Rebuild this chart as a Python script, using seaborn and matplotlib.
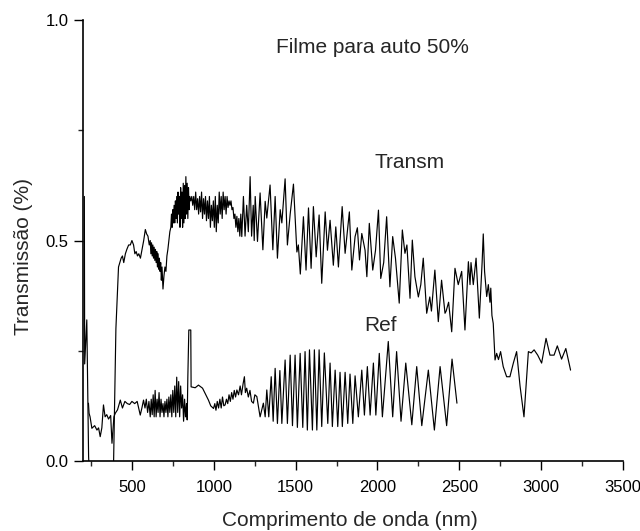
import matplotlib
matplotlib.use('Agg')
import matplotlib.pyplot as plt
import seaborn as sns
import pandas as pd
from matplotlib.ticker import MultipleLocator, FormatStrFormatter

# (comprimento de onda nm, transmissao)
transm_uv = [(207, 0.60), (209, 0.22), (222, 0.32), (226, 0.20), (233, 0.01), (240, -0.05),
             (380, -0.05), (386, 0.0), (400, 0.30), (416, 0.44), (424, 0.45), (432, 0.46),
             (440, 0.465), (448, 0.45), (458, 0.47), (467, 0.48), (478, 0.49), (488, 0.49),
             (498, 0.50), (508, 0.49), (516, 0.47), (524, 0.475), (532, 0.465), (540, 0.47),
             (550, 0.46), (560, 0.48), (570, 0.50), (580, 0.525), (588, 0.515), (596, 0.51),
             (604, 0.49)]
transm_vis = [(610, 0.50), (614, 0.47), (618, 0.495), (622, 0.465), (626, 0.49), (630, 0.46),
              (634, 0.485), (638, 0.455), (642, 0.48), (646, 0.45), (650, 0.475), (654, 0.44),
              (658, 0.47), (662, 0.435), (666, 0.46), (670, 0.43), (674, 0.45), (678, 0.41),
              (682, 0.44), (688, 0.39), (694, 0.42), (700, 0.44), (706, 0.43), (712, 0.465),
              (718, 0.48), (724, 0.50), (730, 0.52), (736, 0.53), (740, 0.56), (744, 0.53),
              (748, 0.57), (752, 0.54), (756, 0.58), (760, 0.54), (764, 0.59), (768, 0.55),
              (772, 0.60), (776, 0.54), (780, 0.61), (784, 0.56), (788, 0.60), (792, 0.53),
              (796, 0.62), (800, 0.55), (804, 0.61), (808, 0.53), (812, 0.63), (816, 0.54),
              (820, 0.625), (824, 0.55), (828, 0.645), (832, 0.56), (836, 0.63), (840, 0.55),
              (844, 0.62), (848, 0.57), (852, 0.60), (858, 0.59), (864, 0.60), (870, 0.58),
              (876, 0.60), (882, 0.57), (888, 0.61), (894, 0.57), (900, 0.595), (906, 0.56),
              (912, 0.60), (918, 0.565), (924, 0.61), (930, 0.55), (936, 0.595), (942, 0.56),
              (948, 0.60), (954, 0.545), (960, 0.59), (966, 0.55), (972, 0.60), (978, 0.53),
              (984, 0.58), (990, 0.545), (996, 0.59), (1002, 0.53), (1008, 0.60), (1014, 0.52),
              (1020, 0.58), (1026, 0.54), (1032, 0.61), (1038, 0.56), (1044, 0.60), (1050, 0.55),
              (1056, 0.61), (1062, 0.57), (1068, 0.60), (1074, 0.56), (1080, 0.60), (1086, 0.575),
              (1092, 0.59), (1098, 0.58), (1104, 0.59), (1110, 0.57), (1116, 0.575), (1122, 0.55),
              (1128, 0.56), (1134, 0.53), (1140, 0.555), (1146, 0.52), (1152, 0.55), (1158, 0.51),
              (1164, 0.56)]
transm_nir = [(1170, 0.509), (1180, 0.60), (1190, 0.51), (1200, 0.58), (1210, 0.52), (1221, 0.645),
              (1230, 0.51), (1240, 0.58), (1246, 0.50), (1252, 0.60), (1266, 0.498), (1282, 0.608),
              (1299, 0.479), (1313, 0.589), (1323, 0.551), (1343, 0.626), (1360, 0.479), (1374, 0.60),
              (1388, 0.46), (1405, 0.57), (1415, 0.54), (1435, 0.64), (1449, 0.49), (1466, 0.56),
              (1486, 0.628), (1507, 0.474), (1516, 0.49), (1528, 0.424), (1547, 0.554), (1563, 0.433),
              (1578, 0.574), (1594, 0.437), (1608, 0.577), (1625, 0.463), (1643, 0.558), (1659, 0.403),
              (1680, 0.565), (1694, 0.478), (1710, 0.546), (1730, 0.444), (1745, 0.531), (1761, 0.440),
              (1784, 0.577), (1802, 0.471), (1828, 0.565), (1843, 0.433), (1863, 0.509), (1877, 0.529),
              (1890, 0.456), (1904, 0.516), (1924, 0.478), (1935, 0.418), (1950, 0.539), (1971, 0.433),
              (1988, 0.478), (2006, 0.569), (2020, 0.414), (2038, 0.45), (2056, 0.554), (2076, 0.395),
              (2093, 0.509), (2110, 0.46), (2133, 0.358), (2152, 0.524), (2168, 0.471), (2180, 0.49),
              (2199, 0.369), (2213, 0.501), (2229, 0.418), (2250, 0.372), (2265, 0.40), (2280, 0.460),
              (2301, 0.335), (2320, 0.372), (2330, 0.34), (2351, 0.433), (2372, 0.316), (2392, 0.410),
              (2413, 0.335), (2420, 0.34), (2435, 0.36), (2454, 0.293), (2474, 0.437), (2494, 0.40),
              (2515, 0.43), (2535, 0.297), (2556, 0.452), (2566, 0.40), (2572, 0.45), (2586, 0.40),
              (2603, 0.46), (2623, 0.324), (2640, 0.45), (2647, 0.515), (2655, 0.43), (2668, 0.373),
              (2678, 0.40), (2688, 0.36), (2693, 0.392), (2700, 0.33), (2708, 0.312), (2719, 0.229),
              (2729, 0.244), (2740, 0.23), (2753, 0.248), (2769, 0.214), (2790, 0.191), (2810, 0.191),
              (2831, 0.222), (2851, 0.248), (2872, 0.17), (2896, 0.100), (2923, 0.248), (2940, 0.245),
              (2958, 0.252), (2980, 0.24), (3004, 0.222), (3031, 0.278), (3055, 0.240), (3080, 0.24),
              (3100, 0.261), (3126, 0.231), (3152, 0.255), (3181, 0.206)]

ref_uv = [(232, 0.131), (236, 0.108), (242, 0.10), (253, 0.074), (270, 0.08), (284, 0.07),
          (294, 0.075), (304, 0.055), (314, 0.075), (324, 0.127), (334, 0.10), (344, 0.105),
          (355, 0.095), (368, 0.103), (376, 0.04), (388, 0.10), (396, 0.108), (410, 0.116),
          (427, 0.138), (440, 0.12), (455, 0.135), (470, 0.13), (484, 0.128), (498, 0.135),
          (515, 0.13), (530, 0.135), (549, 0.104), (559, 0.12), (569, 0.138)]
ref_vis = [(578, 0.12), (586, 0.14), (594, 0.11), (602, 0.135), (610, 0.10), (616, 0.14),
           (622, 0.105), (628, 0.15), (634, 0.10), (640, 0.16), (646, 0.10), (652, 0.14),
           (658, 0.11), (664, 0.155), (670, 0.10), (676, 0.14), (682, 0.11), (688, 0.13),
           (694, 0.10), (700, 0.135), (706, 0.11), (712, 0.14), (718, 0.10), (724, 0.145),
           (730, 0.11), (736, 0.15), (742, 0.10), (748, 0.16), (754, 0.11), (760, 0.17),
           (766, 0.10), (772, 0.19), (778, 0.11), (784, 0.18), (790, 0.10), (796, 0.17),
           (802, 0.12), (808, 0.15), (814, 0.09), (820, 0.14), (826, 0.10), (832, 0.13),
           (836, 0.093), (840, 0.19), (846, 0.297), (858, 0.297), (860, 0.168), (885, 0.166),
           (905, 0.172), (930, 0.165), (950, 0.15), (966, 0.138), (980, 0.125), (997, 0.119),
           (1005, 0.13), (1012, 0.115), (1020, 0.135), (1028, 0.12), (1036, 0.14), (1044, 0.12),
           (1052, 0.145), (1060, 0.125), (1068, 0.127), (1076, 0.14), (1084, 0.13), (1092, 0.15),
           (1100, 0.135), (1108, 0.155), (1116, 0.14), (1124, 0.16), (1132, 0.145), (1140, 0.161),
           (1150, 0.15), (1160, 0.17), (1168, 0.15), (1178, 0.175), (1186, 0.191), (1192, 0.155),
           (1200, 0.165), (1210, 0.145), (1220, 0.16), (1230, 0.135), (1241, 0.131), (1250, 0.15),
           (1262, 0.146), (1282, 0.10), (1302, 0.131), (1313, 0.10)]
ref_nir = [(1323, 0.161), (1335, 0.10), (1350, 0.191), (1362, 0.09), (1374, 0.210), (1388, 0.085),
           (1403, 0.205), (1415, 0.085), (1435, 0.229), (1449, 0.085), (1466, 0.240), (1480, 0.08),
           (1496, 0.24), (1510, 0.076), (1527, 0.244), (1543, 0.076), (1557, 0.248), (1571, 0.07),
           (1584, 0.252), (1602, 0.07), (1614, 0.252), (1629, 0.07), (1643, 0.252), (1659, 0.078),
           (1675, 0.245), (1696, 0.085), (1710, 0.222), (1724, 0.078), (1741, 0.206), (1757, 0.078),
           (1771, 0.201), (1785, 0.078), (1802, 0.201), (1818, 0.085), (1832, 0.197), (1849, 0.085),
           (1863, 0.193), (1883, 0.10), (1904, 0.206), (1920, 0.104), (1938, 0.214), (1955, 0.104),
           (1975, 0.222), (1990, 0.104), (2011, 0.244), (2030, 0.100), (2066, 0.271), (2093, 0.10),
           (2117, 0.248), (2144, 0.090), (2173, 0.222), (2210, 0.082), (2240, 0.214), (2271, 0.080),
           (2311, 0.206), (2348, 0.070), (2383, 0.214), (2423, 0.080), (2456, 0.231), (2486, 0.131)]

transm = transm_uv + transm_vis + transm_nir
ref = ref_uv + ref_vis + ref_nir
df_t = pd.DataFrame(transm, columns=['nm', 'val'])
df_r = pd.DataFrame(ref, columns=['nm', 'val'])

sns.set_style('ticks')
plt.rcParams['font.family'] = ['Liberation Sans', 'DejaVu Sans']

fig = plt.figure(figsize=(6.4, 5.31), dpi=100)
ax = fig.add_axes([0.130, 0.132, 0.843, 0.830])

sns.lineplot(data=df_t, x='nm', y='val', sort=False, estimator=None,
             color='black', lw=0.85, ax=ax)
sns.lineplot(data=df_r, x='nm', y='val', sort=False, estimator=None,
             color='black', lw=0.85, ax=ax)

ax.set_xlim(200, 3500)
ax.set_ylim(0, 1.0)
ax.xaxis.set_major_locator(MultipleLocator(500))
ax.xaxis.set_minor_locator(MultipleLocator(250))
ax.yaxis.set_major_locator(MultipleLocator(0.5))
ax.yaxis.set_minor_locator(MultipleLocator(0.25))
ax.yaxis.set_major_formatter(FormatStrFormatter('%.1f'))
ax.tick_params(which='major', direction='out', length=6.5, width=1, labelsize=12,
               colors='black', pad=4)
ax.tick_params(axis='x', which='major', pad=7)
ax.tick_params(which='minor', direction='out', length=3.5, width=1)
for s in ['left', 'bottom']:
    ax.spines[s].set_linewidth(1.2)
    ax.spines[s].set_color('black')
sns.despine(ax=ax)

ax.set_xlabel('Comprimento de onda (nm)', fontsize=15)
ax.set_ylabel('Transmissão (%)', fontsize=15)
ax.xaxis.set_label_coords(0.494, -0.113)
ax.yaxis.set_label_coords(-0.093, 0.463)

ax.text(1967, 0.939, 'Filme para auto 50%', ha='center', va='center', fontsize=15)
ax.text(2199, 0.676, 'Transm', ha='center', va='center', fontsize=15)
ax.text(2016, 0.308, 'Ref', ha='center', va='center', fontsize=15)

fig.savefig('out.png', dpi=100)
